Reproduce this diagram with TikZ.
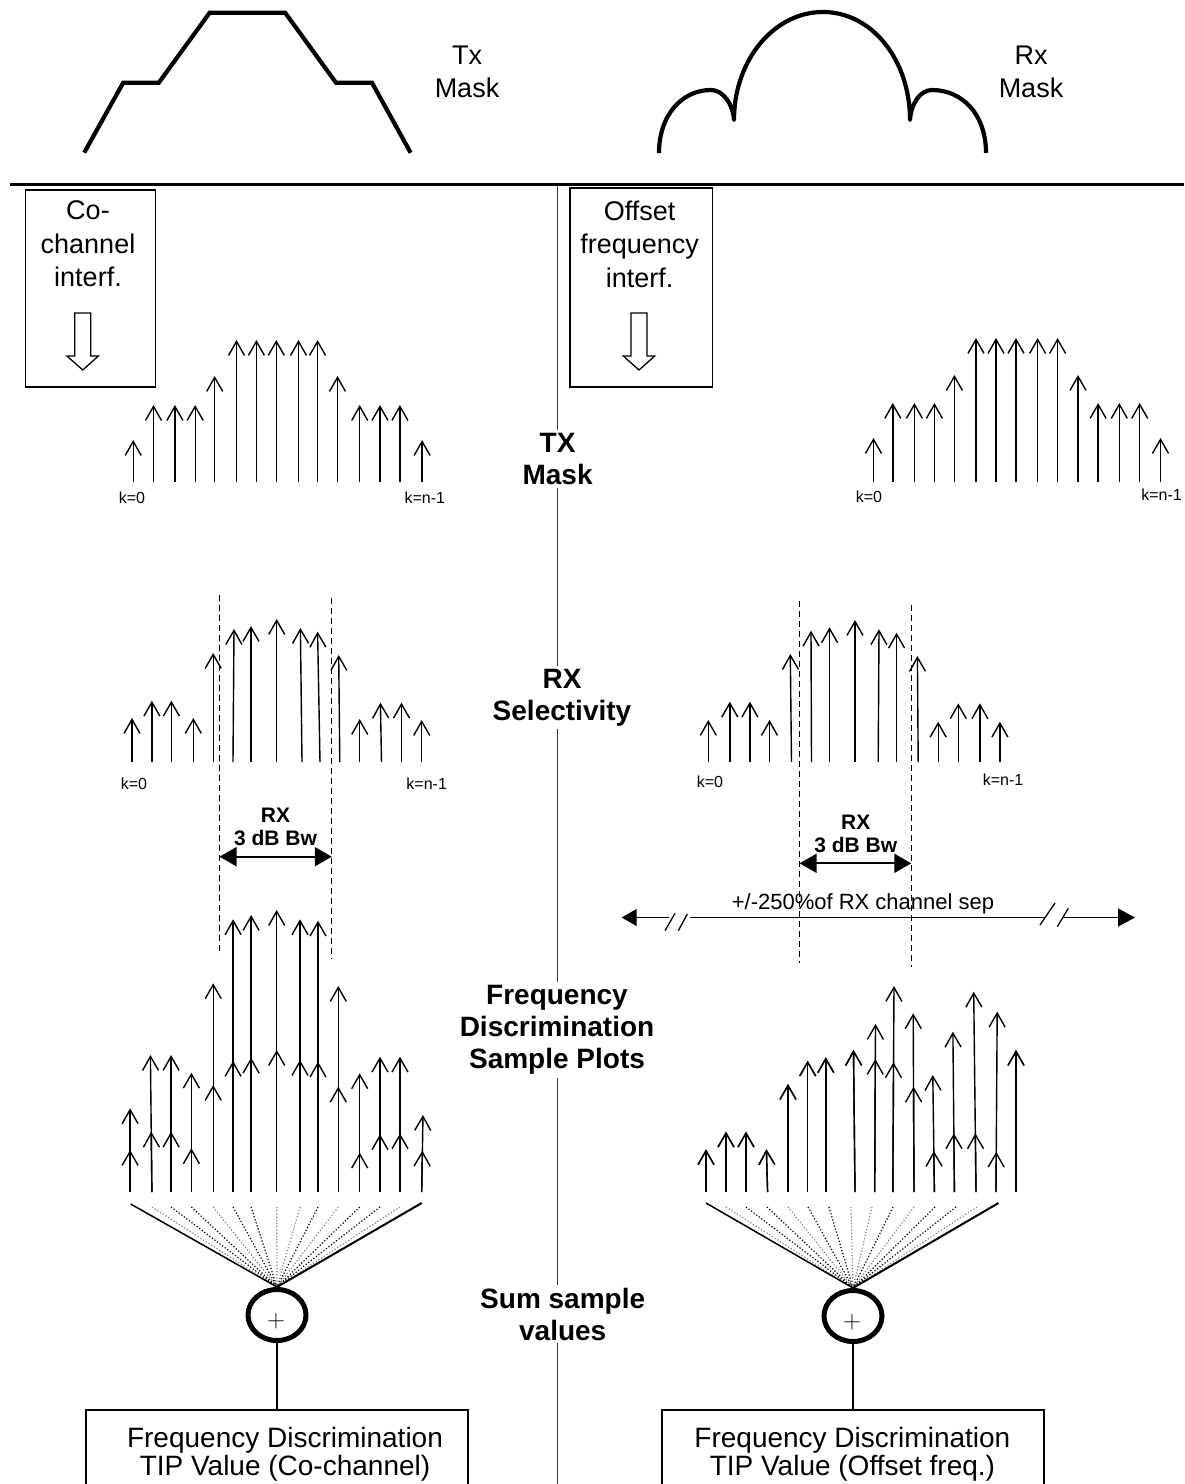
\documentclass[tikz,border=0pt]{standalone}
\usepackage[no-math]{fontspec}
\setmainfont{Liberation Sans}
\usetikzlibrary{arrows.meta, positioning, shapes.geometric}

\tikzset{
	sample/.style={line width=1.4pt, -{Straight Barb[length=14pt, width=16pt]}},
	maskpath/.style={line width=4.2pt, line join=miter},
	band/.style={line width=1.3pt, dash pattern=on 6pt off 4pt},
	bwarrow/.style={line width=1.8pt, {Triangle[length=17pt, width=19pt]}-{Triangle[length=17pt, width=19pt]}},
	span/.style={line width=1.3pt},
	rowlabel/.style={fill=white, inner sep=3pt, align=center, font=\bfseries\fontsize{28}{32}\selectfont},
	toplabel/.style={align=center, inner sep=0pt, font=\fontsize{27}{33.5}\selectfont},
	klabel/.style={inner sep=0pt, font=\fontsize{16}{16}\selectfont},
	bwlabel/.style={inner sep=0pt, align=center, font=\bfseries\fontsize{21}{23}\selectfont},
	interfbox/.style={draw, line width=1.5pt, anchor=north west, inner sep=0pt},
	hollow/.style={line width=1.3pt, fill=white},
	sumnode/.style={draw, ellipse, line width=5pt, minimum width=58pt, minimum height=51pt, inner sep=0pt},
	pluslabel/.style={inner sep=0pt, font=\fontsize{26}{26}\selectfont},
	tipbox/.style={draw, line width=1.5pt, anchor=north, minimum width=382pt, minimum height=120pt},
	tiptext/.style={align=center, inner sep=0pt, font=\fontsize{28}{28}\selectfont},
	fan/.style={line width=1.5pt},
	spray/.style={line width=1.2pt, dotted},
	link/.style={line width=1.3pt},
	divider/.style={line width=1.2pt, black!80}
}

\begin{document}
\begin{tikzpicture}[x=1pt, y=-1pt]
	\useasboundingbox (0,0) rectangle (1184,1484);

	\draw[maskpath] (84.2,152.7) -- (123.2,82.7) -- (158.8,82.7) -- (209.7,12.7) -- (285.1,12.7) -- (336,82.7) -- (372,82.7) -- (410.6,152.7);
	\node[toplabel] (txmask) at (467,72) {Tx\\Mask};
	\draw[maskpath, line join=round] (659,153) .. controls (659,115) and (682,90) .. (711,90) .. controls (723,90) and (733,104) .. (734,120) .. controls (734,60) and (774,12) .. (823,12) .. controls (872,12) and (910,60) .. (910,120) .. controls (911,104) and (920,90) .. (932,90) .. controls (963,90) and (986,115) .. (986,153);
	\node[toplabel] (rxmask) at (1031,72) {Rx\\Mask};

	\draw[line width=3.3pt] (9.6,184.3) -- (1184,184.3);
	\draw[divider] (557.6,186) -- (557.6,1484);

	\node[interfbox, minimum width=130pt, minimum height=197pt] (cobox) at (24.9,189) {};
	\node[toplabel] (cotext) at (88,244) {Co-\\channel\\interf.};
	\node[interfbox, minimum width=142.7pt, minimum height=199pt] (offbox) at (569,187) {};
	\node[toplabel] (offtext) at (639.7,244) {Offset\\frequency\\interf.};
	\foreach \a in {82.7,639}
		\draw[hollow] ({\a-8},313) -- ({\a+8},313) -- ({\a+8},356) -- ({\a+15.7},356) -- (\a,370) -- ({\a-15.7},356) -- ({\a-8},356) -- cycle;

	\foreach \x/\tp in {133.2/440, 153.5/405, 174.9/405, 195.2/405, 214.7/376, 236.5/340, 256.4/340, 276.3/340, 298.5/340, 317.6/340, 337.5/376, 359.7/405, 380/405, 399.9/405, 422.1/440}
		\draw[sample] (\x,482) -- (\x,\tp);
	\foreach \x/\tp in {873.5/438, 892.8/403, 914.4/403, 934.4/403, 954.4/375, 976/338, 996/338, 1016/338, 1037.6/338, 1057.6/338, 1078/375, 1098.1/403, 1119.3/403, 1139.7/403, 1160.5/438}
		\draw[sample] (\x,482) -- (\x,\tp);
	\node[klabel] (txk0L) at (132,498) {k=0};
	\node[klabel] (txknL) at (424.8,498) {k=n-1};
	\node[klabel] (txk0R) at (869,497) {k=0};
	\node[klabel] (txknR) at (1161.5,495) {k=n-1};
	\node[rowlabel] (txrow) at (557.6,459) {TX\\Mask};

	\draw[band] (219.5,595) -- (219.5,955);
	\draw[band] (331.8,598) -- (331.8,959);
	\draw[band] (799.6,601) -- (799.6,963);
	\draw[band] (911.3,605) -- (911.3,967);
	\foreach \xb/\xt/\tp in {132/132/718, 151.9/151.9/700.7, 171.4/171.4/700.7, 193.3/193.3/718, 213.2/213.2/653, 233/234/629, 251/251/626, 276.7/276.7/619, 302/300.4/628, 320/317.6/631.7, 339.8/338.7/655, 359.7/359.7/719, 381.5/380.4/702.7, 401.5/401.5/702.7, 421.7/421.7/720}
		\draw[sample] (\xb,762) -- (\xt,\tp);
	\foreach \xb/\xt/\tp in {708.3/708.3/720, 729.8/729.8/701.7, 749.9/749.9/701.7, 769.5/769.5/720, 791.5/790.3/654, 811.5/811/630.7, 829.6/829.6/627.3, 855/855/620, 878.2/879/629.3, 896.6/896.6/632.7, 918.2/917.4/656, 938.2/938.2/721.7, 958.3/958.3/703.3, 979.9/979.9/703.3, 999.9/999.9/721.7}
		\draw[sample] (\xb,762) -- (\xt,\tp);
	\node[klabel] (rxk0L) at (134,784) {k=0};
	\node[klabel] (rxknL) at (426.7,784) {k=n-1};
	\node[klabel] (rxk0R) at (710,781.7) {k=0};
	\node[klabel] (rxknR) at (1003,780) {k=n-1};
	\node[rowlabel] (rxrow) at (562,697.5) {RX\\Selectivity};

	\node[bwlabel] (bwL) at (275.5,827) {RX\\3 dB Bw};
	\draw[bwarrow] (219.5,856.7) -- (331.8,856.7);
	\node[bwlabel] (bwR) at (855.8,834) {RX\\3 dB Bw};
	\draw[bwarrow] (799.6,863.3) -- (911.3,863.3);

	\node[inner sep=0pt, anchor=base, font=\fontsize{22}{22}\selectfont] (septext) at (863,909.3) {+/-250\%of RX channel sep};
	\draw[span, {Triangle[length=15pt, width=17pt]}-] (621.7,917.5) -- (669,917.5);
	\draw[span] (665,930.7) -- (675,913.3) (678.3,930.7) -- (687.3,914);
	\draw[span] (690,917.5) -- (1045,917.5);
	\draw[span] (1040,925) -- (1055,903) (1057.3,926.7) -- (1068.3,908.3);
	\draw[span, -{Triangle[length=17pt, width=18pt]}] (1063,917.5) -- (1135,917.5);

	\foreach \xb/\xt/\tp/\m in {130.1/130.1/1108.3/1150, 151.9/150.4/1055/1131.7, 171.1/171.1/1055/1131.7, 191.4/191.4/1072.7/1148.3, 213.2/213.2/983.3/1085, 233.1/233.1/919.3/1061, 251.1/251.1/915/1057.7, 276.7/276.7/910/1050, 300/300/919.3/1060, 318/318/920.7/1061.7, 338.3/338.3/986/1086.7, 359.7/359.7/1073.3/1152.7, 380/380/1056.7/1134.3, 400/400/1056.7/1133.3, 421.7/423/1115/1150.7, 706/706/1149.3/1149.3, 726/726/1131.7/1131.7, 746/746/1131.7/1131.7, 767.6/766.4/1149.3/1149.3, 788/788/1084/1084, 807.7/807.7/1060.7/1060.7, 825.8/825.8/1057.3/1057.3, 855/853.5/1050/1050, 874.7/875.5/1024/1059, 892.8/894/986/1062.3, 914/913.2/1013.3/1086.7, 934.4/932.8/1075/1151, 954.4/952.9/1031.7/1133.3, 976/973.7/991.7/1133.3, 996/997.2/1011.7/1151.7, 1016/1016/1050/1050}
	{
		\draw[sample] (\xb,1192) -- (\xt,\tp);
		\draw[sample] (\xb,1192) -- ({\xb+(\xt-\xb)*(1192-\m)/(1192-\tp)},\m);
	}
	\node[rowlabel] (fdrow) at (557,1030) {Frequency\\Discrimination\\Sample Plots};

	\node[sumnode] (sumL) at (277,1315) {};
	\node[pluslabel] (plusL) at (276,1321) {$+$};
	\node[sumnode] (sumR) at (853,1316) {};
	\node[pluslabel] (plusR) at (852,1322) {$+$};
	\foreach \x/\c in {151.9/black!50, 171.1/black, 191.4/black, 213.2/black!50, 233.1/black, 251.1/black, 276.7/black!50, 300/black!50, 318/black, 338.3/black!50, 359.7/black, 380/black, 400/black!50}
		\draw[spray, \c] (\x,1207) -- (sumL.north);
	\foreach \x/\c in {726/black!50, 746/black, 767/black, 788/black!50, 808/black, 829/black, 851/black!50, 872/black!50, 893/black, 914/black!50, 935/black, 956/black, 977/black!50}
		\draw[spray, \c] (\x,1207) -- (sumR.north);
	\draw[fan] (130.7,1204) -- (sumL.north);
	\draw[fan, line width=2pt] (421.7,1203) -- (sumL.north);
	\draw[fan] (706,1203) -- (sumR.north);
	\draw[fan, line width=2pt] (998.5,1203) -- (sumR.north);
	\node[rowlabel] (sumrow) at (562.7,1314) {Sum sample\\values};

	\node[tipbox] (tipL) at (277,1409) {};
	\node[tiptext] (tipLtext) at (285,1454) {Frequency Discrimination\\TIP Value (Co-channel)};
	\node[tipbox] (tipR) at (853,1409) {};
	\node[tiptext] (tipRtext) at (852.4,1454) {Frequency Discrimination\\TIP Value (Offset freq.)};
	\draw[link] (sumL) -- (tipL);
	\draw[link] (sumR) -- (tipR);
\end{tikzpicture}
\end{document}
